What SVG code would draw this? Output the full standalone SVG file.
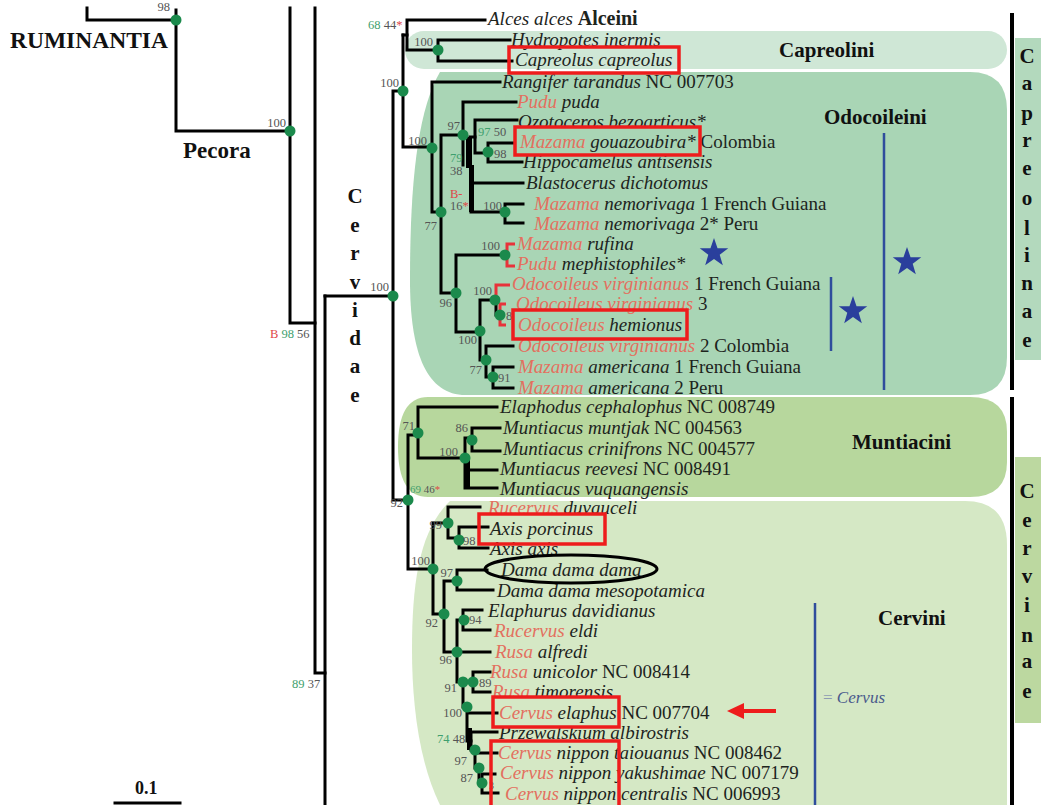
<svg xmlns="http://www.w3.org/2000/svg" xmlns:xlink="http://www.w3.org/1999/xlink" width="1041" height="805" viewBox="0 0 1041 805">
<defs>
<style>
.br{fill:none;stroke:#000;stroke-width:3;stroke-linecap:square}
.rbr{fill:none;stroke:#e8323a;stroke-width:3}
.tk{fill:#000}
.nd{fill:#1b8a4c}
.sp{font-family:"Liberation Serif",serif;font-size:19px;font-style:italic;fill:#1d241d}
.g{fill:#e3705f}
.n{font-style:normal}
.bs{font-family:"Liberation Serif",serif;font-size:12.5px;fill:#555}
.bg{fill:#3f9f6e}
.bx{fill:#e04848}
.cl{font-family:"Liberation Serif",serif;font-weight:bold;font-size:21px;fill:#111}
.vt{font-family:"Liberation Serif",serif;font-weight:bold;font-size:21px;fill:#111;text-anchor:middle}
.box{fill:none;stroke:#ee1c1c;stroke-width:3.5}
.blu{stroke:#2f4d9c;stroke-width:2.5;fill:none}
</style>
<path id="star" d="M0,-15 L3.53,-4.85 L14.27,-4.64 L5.71,1.85 L8.82,12.14 L0,6 L-8.82,12.14 L-5.71,1.85 L-14.27,-4.64 L-3.53,-4.85 Z" fill="#2a3f9c"/>
</defs>
<rect width="1041" height="805" fill="#fff"/>

<g id="clade-backgrounds">
<rect id="bg-capreolini" x="405" y="31" width="602" height="38" rx="19" fill="#cfe7d6"/>
<path id="bg-odocoileini" d="M440,72 H970 Q1007,72 1007,110 V357 Q1007,395 970,395 H462 C425,392 410,350 410,280 C410,180 418,110 440,72 Z" fill="#a9d5b5"/>
<path id="bg-muntiacini" d="M428,397 H970 Q1007,397 1007,432 V462 Q1007,497 970,497 H428 Q398,497 398,447 Q398,397 428,397 Z" fill="#b7d79d"/>
<path id="bg-cervini" d="M450,501 H965 Q1007,501 1007,545 V805 H440 C418,760 412,700 412,650 C412,580 420,530 450,501 Z" fill="#d5e8c5"/>
<rect id="bg-capreolinae" x="1015" y="38" width="26" height="322" fill="#b3d9bd"/>
<rect id="bg-cervinae" x="1015" y="457" width="26" height="266" fill="#bcd8a0"/>
</g>

<g id="connectors">
<path class="br" d="M87,8 V20 H176"/>
<path class="br" d="M176,10 V131 H290"/>
<path class="br" d="M290,8 V323 H315"/>
<path class="br" d="M315,8 V673 H325"/>
<path class="br" d="M325,296 V805"/>
<path class="br" d="M325,296 H393"/>
<path class="br" d="M403,91 H393 V500 H408"/>
<path class="br" d="M485,20 H407 V50 H438"/>
<path class="br" d="M403,35 H407"/>
<path class="br" d="M403,35 V147 H432"/>
<path class="br" d="M510,40 H438 V61 H512"/>
<path class="br" d="M500,82 H432 V212 H441"/>
<path class="br" d="M463,135 H441 V293 H456"/>
<path class="br" d="M516,102 H463 V165"/>
<rect class="tk" x="466" y="137" width="6" height="31"/>
<path class="br" d="M470,137 H475"/>
<path class="br" d="M517,120 H475 V153 H488"/>
<path class="br" d="M513,143 H488 V162 H522"/>
<rect class="tk" x="469" y="165" width="5" height="47"/>
<path class="br" d="M471,183 H523"/>
<path class="br" d="M471,212 H505"/>
<path class="br" d="M523,204 H505 V223 H523"/>
<path class="br" d="M505,255 H456 V332 H480"/>
<path class="br" d="M495,300 H480 V360 H486"/>
<path class="br" d="M496,300 V315 H500"/>
<path class="br" d="M513,346 H486 V377 H493"/>
<path class="br" d="M513,367 H493 V388 H513"/>
<path class="rbr" d="M515,244 H507 V266 H515"/>
<path class="rbr" d="M510,285 H496 V300"/>
<path class="rbr" d="M506,304 H500 V325 H506"/>
<path class="br" d="M418,435 H408 V569 H433"/>
<path class="br" d="M497,407 H418 V458 H465"/>
<path class="br" d="M472,438 H465 V488 H497"/>
<rect class="tk" x="465" y="458" width="5" height="30"/>
<path class="br" d="M468,470 H497"/>
<path class="br" d="M500,428 H472 V451 H500"/>
<path class="br" d="M448,523 H433 V614 H444"/>
<path class="br" d="M480,507 H448 V538 H459"/>
<path class="br" d="M488,527 H459 V548 H488"/>
<path class="br" d="M457,581 H444 V652 H457"/>
<path class="br" d="M487,570 H457 V590 H493"/>
<path class="br" d="M463,620 H457 V682 H463"/>
<path class="br" d="M457,652 H490"/>
<path class="br" d="M482,610 H463 V630 H490"/>
<path class="br" d="M490,672 H473 V692 H490"/>
<path class="br" d="M473,682 H463 V707 H467"/>
<path class="br" d="M497,713 H467 V741 H471"/>
<rect class="tk" x="467" y="728" width="5" height="22"/>
<path class="br" d="M497,732 H471 V750 H475"/>
<path class="br" d="M497,753 H475 V768 H479"/>
<path class="br" d="M479,768 V783 H482"/>
<path class="br" d="M495,774 H482 V793 H498"/>
<path class="br" d="M115,803 H180"/>
</g>

<g id="node-dots">
<circle class="nd" cx="176" cy="20" r="5.5"/><circle class="nd" cx="290" cy="131" r="5.5"/>
<circle class="nd" cx="393" cy="296" r="5.5"/><circle class="nd" cx="403" cy="91" r="5.5"/>
<circle class="nd" cx="438" cy="50" r="5.5"/><circle class="nd" cx="432" cy="148" r="5.5"/>
<circle class="nd" cx="441" cy="212" r="5.5"/><circle class="nd" cx="463" cy="135" r="5.5"/>
<circle class="nd" cx="488" cy="152" r="5.5"/><circle class="nd" cx="505" cy="212" r="5.5"/>
<circle class="nd" cx="505" cy="255" r="5.5"/><circle class="nd" cx="456" cy="293" r="5.5"/>
<circle class="nd" cx="480" cy="331" r="5.5"/><circle class="nd" cx="495" cy="300" r="5.5"/>
<circle class="nd" cx="500" cy="315" r="5.5"/><circle class="nd" cx="486" cy="360" r="5.5"/>
<circle class="nd" cx="493" cy="377" r="5.5"/><circle class="nd" cx="418" cy="433" r="5.5"/>
<circle class="nd" cx="472" cy="440" r="5.5"/><circle class="nd" cx="465" cy="458" r="5.5"/>
<circle class="nd" cx="408" cy="500" r="5.5"/><circle class="nd" cx="448" cy="523" r="5.5"/>
<circle class="nd" cx="459" cy="540" r="5.5"/><circle class="nd" cx="433" cy="569" r="5.5"/>
<circle class="nd" cx="457" cy="581" r="5.5"/><circle class="nd" cx="444" cy="614" r="5.5"/>
<circle class="nd" cx="464" cy="620" r="5.5"/><circle class="nd" cx="457" cy="652" r="5.5"/>
<circle class="nd" cx="463" cy="682" r="5.5"/><circle class="nd" cx="473" cy="682" r="5.5"/>
<circle class="nd" cx="467" cy="707" r="5.5"/><circle class="nd" cx="475" cy="750" r="5.5"/>
<circle class="nd" cx="479" cy="768" r="5.5"/><circle class="nd" cx="482" cy="783" r="5.5"/>
</g>

<g id="support-values">
<text class="bs" x="170" y="11" text-anchor="end">98</text>
<text class="bs" x="286" y="127" text-anchor="end">100</text>
<text class="bs" x="389" y="291" text-anchor="end">100</text>
<text class="bs" x="270" y="338"><tspan class="bx">B</tspan> <tspan class="bg">98</tspan> 56</text>
<text class="bs" x="292" y="688"><tspan class="bg">89</tspan> 37</text>
<text class="bs" x="368" y="29"><tspan class="bg">68</tspan> 44<tspan class="bx">*</tspan></text>
<text class="bs" x="399" y="87" text-anchor="end">100</text>
<text class="bs" x="433" y="46" text-anchor="end">100</text>
<text class="bs" x="427" y="145" text-anchor="end">100</text>
<text class="bs" x="460" y="130" text-anchor="end">97</text>
<text class="bs" x="478" y="136"><tspan class="bg">97</tspan> 50</text>
<text class="bs" x="494" y="158">98</text>
<text class="bs bg" x="450" y="162">79</text>
<text class="bs" x="450" y="175">38</text>
<text class="bs bx" x="450" y="198">B-</text>
<text class="bs" x="450" y="210">16<tspan class="bx">*</tspan></text>
<text class="bs" x="502" y="210" text-anchor="end">100</text>
<text class="bs" x="437" y="230" text-anchor="end">77</text>
<text class="bs" x="500" y="250" text-anchor="end">100</text>
<text class="bs" x="452" y="307" text-anchor="end">96</text>
<text class="bs" x="477" y="344" text-anchor="end">100</text>
<text class="bs" x="492" y="295" text-anchor="end">100</text>
<text class="bs" x="506" y="320">8</text>
<text class="bs" x="482" y="374" text-anchor="end">77</text>
<text class="bs" x="498" y="382">91</text>
<text class="bs" x="415" y="430" text-anchor="end">71</text>
<text class="bs" x="468" y="432" text-anchor="end">86</text>
<text class="bs" x="458" y="456" text-anchor="end">100</text>
<text class="bs" x="410" y="493" style="font-size:11px"><tspan class="bg">69</tspan> 46<tspan class="bx">*</tspan></text>
<text class="bs" x="403" y="507" text-anchor="end">92</text>
<text class="bs" x="442" y="529" text-anchor="end">99</text>
<text class="bs" x="463" y="545">98</text>
<text class="bs" x="430" y="565" text-anchor="end">100</text>
<text class="bs" x="453" y="577" text-anchor="end">97</text>
<text class="bs" x="438" y="627" text-anchor="end">92</text>
<text class="bs" x="469" y="624">94</text>
<text class="bs" x="452" y="664" text-anchor="end">96</text>
<text class="bs" x="457" y="692" text-anchor="end">91</text>
<text class="bs" x="479" y="687">89</text>
<text class="bs" x="462" y="717" text-anchor="end">100</text>
<text class="bs" x="437" y="743"><tspan class="bg">74</tspan> 48</text>
<text class="bs" x="467" y="765" text-anchor="end">97</text>
<text class="bs" x="473" y="782" text-anchor="end">87</text>
<text class="bs" x="489" y="789" style="font-size:10px">3</text>
</g>

<g id="leaves">
<g id="leaf-alces"><text class="sp" x="488" y="25">Alces alces <tspan class="n" font-weight="bold" style="font-size:20px">Alceini</tspan></text></g>
<g id="leaf-hydropotes"><text class="sp" x="511" y="46">Hydropotes inermis</text></g>
<g id="leaf-capreolus"><text class="sp" x="515" y="66">Capreolus capreolus</text></g>
<g id="leaf-rangifer"><text class="sp" x="502" y="88">Rangifer tarandus <tspan class="n">NC 007703</tspan></text></g>
<g id="leaf-pudu-puda"><text class="sp" x="517" y="108"><tspan class="g">Pudu</tspan> puda</text></g>
<g id="leaf-ozotoceros"><text class="sp" x="518" y="128">Ozotoceros bezoarticus*</text></g>
<g id="leaf-mazama-gouazoubira"><text class="sp" x="520" y="148"><tspan class="g">Mazama</tspan> gouazoubira* <tspan class="n">Colombia</tspan></text></g>
<g id="leaf-hippocamelus"><text class="sp" x="523" y="168">Hippocamelus antisensis</text></g>
<g id="leaf-blastocerus"><text class="sp" x="526" y="189">Blastocerus dichotomus</text></g>
<g id="leaf-nemorivaga1"><text class="sp" x="534" y="210"><tspan class="g">Mazama</tspan> nemorivaga <tspan class="n">1 French Guiana</tspan></text></g>
<g id="leaf-nemorivaga2"><text class="sp" x="534" y="230"><tspan class="g">Mazama</tspan> nemorivaga <tspan class="n">2* Peru</tspan></text></g>
<g id="leaf-rufina"><text class="sp" x="517" y="250"><tspan class="g">Mazama</tspan> rufina</text></g>
<g id="leaf-mephistophiles"><text class="sp" x="517" y="270"><tspan class="g">Pudu</tspan> mephistophiles*</text></g>
<g id="leaf-odo-v1"><text class="sp" x="512" y="290"><tspan class="g">Odocoileus virginianus</tspan> <tspan class="n">1 French Guiana</tspan></text></g>
<g id="leaf-odo-v3"><text class="sp" x="516" y="310"><tspan class="g">Odocoileus virginianus</tspan> <tspan class="n">3</tspan></text></g>
<g id="leaf-odo-hemionus"><text class="sp" x="518" y="331"><tspan class="g">Odocoileus</tspan> hemionus</text></g>
<g id="leaf-odo-v2"><text class="sp" x="518" y="352"><tspan class="g">Odocoileus virginianus</tspan> <tspan class="n">2 Colombia</tspan></text></g>
<g id="leaf-americana1"><text class="sp" x="518" y="373"><tspan class="g">Mazama</tspan> americana <tspan class="n">1 French Guiana</tspan></text></g>
<g id="leaf-americana2"><text class="sp" x="518" y="394"><tspan class="g">Mazama</tspan> americana <tspan class="n">2 Peru</tspan></text></g>
<g id="leaf-elaphodus"><text class="sp" x="500" y="413">Elaphodus cephalophus <tspan class="n">NC 008749</tspan></text></g>
<g id="leaf-muntjak"><text class="sp" x="503" y="434">Muntiacus muntjak <tspan class="n">NC 004563</tspan></text></g>
<g id="leaf-crinifrons"><text class="sp" x="503" y="455">Muntiacus crinifrons <tspan class="n">NC 004577</tspan></text></g>
<g id="leaf-reevesi"><text class="sp" x="500" y="475">Muntiacus reevesi <tspan class="n">NC 008491</tspan></text></g>
<g id="leaf-vuquangensis"><text class="sp" x="500" y="495">Muntiacus vuquangensis</text></g>
<g id="leaf-duvauceli"><text class="sp" x="488" y="514"><tspan class="g">Rucervus</tspan> duvauceli</text></g>
<g id="leaf-axis-porcinus"><text class="sp" x="490" y="535">Axis porcinus</text></g>
<g id="leaf-axis-axis"><text class="sp" x="490" y="555">Axis axis</text></g>
<g id="leaf-dama"><text class="sp" x="501" y="576">Dama dama dama</text></g>
<g id="leaf-mesopotamica"><text class="sp" x="497" y="597">Dama dama mesopotamica</text></g>
<g id="leaf-elaphurus"><text class="sp" x="488" y="617">Elaphurus davidianus</text></g>
<g id="leaf-eldi"><text class="sp" x="494" y="637"><tspan class="g">Rucervus</tspan> eldi</text></g>
<g id="leaf-alfredi"><text class="sp" x="495" y="658"><tspan class="g">Rusa</tspan> alfredi</text></g>
<g id="leaf-unicolor"><text class="sp" x="490" y="678"><tspan class="g">Rusa</tspan> unicolor <tspan class="n">NC 008414</tspan></text></g>
<g id="leaf-timorensis"><text class="sp" x="492" y="698"><tspan class="g">Rusa</tspan> timorensis</text></g>
<g id="leaf-elaphus"><text class="sp" x="499" y="719"><tspan class="g">Cervus</tspan> elaphus <tspan class="n">NC 007704</tspan></text></g>
<g id="leaf-przewalskium"><text class="sp" x="499" y="739">Przewalskium albirostris</text></g>
<g id="leaf-taiouanus"><text class="sp" x="498" y="759"><tspan class="g">Cervus</tspan> nippon taiouanus <tspan class="n">NC 008462</tspan></text></g>
<g id="leaf-yakushimae"><text class="sp" x="500" y="779"><tspan class="g">Cervus</tspan> nippon yakushimae <tspan class="n">NC 007179</tspan></text></g>
<g id="leaf-centralis"><text class="sp" x="505" y="800"><tspan class="g">Cervus</tspan> nippon centralis <tspan class="n">NC 006993</tspan></text></g>
</g>

<g id="highlights">
<rect class="box" x="509" y="47" width="170" height="26"/>
<rect class="box" x="515" y="127" width="185" height="28"/>
<rect class="box" x="513" y="310" width="174" height="29"/>
<rect class="box" x="479" y="514" width="126" height="30"/>
<rect class="box" x="493" y="697" width="126" height="30"/>
<rect class="box" x="491" y="741" width="128" height="70"/>
<ellipse cx="571" cy="569" rx="86" ry="14" fill="none" stroke="#000" stroke-width="3"/>
<g id="red-arrow"><line x1="776" y1="711" x2="740" y2="711" stroke="#ee1c1c" stroke-width="4"/><polygon points="727,711 744,703 744,719" fill="#ee1c1c"/></g>
</g>

<g id="clade-marks">
<line class="blu" x1="884" y1="133" x2="884" y2="390"/>
<line class="blu" x1="831" y1="277" x2="831" y2="351"/>
<line class="blu" x1="815" y1="603" x2="815" y2="805"/>
<use xlink:href="#star" href="#star" x="714" y="253"/>
<use xlink:href="#star" href="#star" x="907" y="262"/>
<use xlink:href="#star" href="#star" x="853" y="311"/>
<text x="823" y="703" font-family="Liberation Serif, serif" font-size="17"><tspan fill="#8d9bb3">=</tspan><tspan fill="#4a5a8c" font-style="italic"> Cervus</tspan></text>
<line x1="1012" y1="13" x2="1012" y2="390" stroke="#000" stroke-width="4"/>
<line x1="1012" y1="397" x2="1012" y2="805" stroke="#000" stroke-width="4"/>
</g>

<g id="group-labels">
<text class="cl" x="10" y="48" style="font-size:23.5px">RUMINANTIA</text>
<text class="cl" x="183" y="158" style="font-size:23px">Pecora</text>
<text class="cl" x="779" y="57">Capreolini</text>
<text class="cl" x="824" y="124">Odocoileini</text>
<text class="cl" x="852" y="449">Muntiacini</text>
<text class="cl" x="878" y="625">Cervini</text>
<text class="cl" x="135" y="794" style="font-size:18px">0.1</text>
<g id="label-cervidae" style="font-size:22px">
<text class="vt" x="355" y="203">C</text><text class="vt" x="355" y="232">e</text><text class="vt" x="355" y="260">r</text><text class="vt" x="355" y="289">v</text><text class="vt" x="355" y="317">i</text><text class="vt" x="355" y="345">d</text><text class="vt" x="355" y="373">a</text><text class="vt" x="355" y="402">e</text>
</g>
<g id="label-capreolinae">
<text class="vt" x="1027" y="63">C</text><text class="vt" x="1027" y="90">a</text><text class="vt" x="1027" y="120">p</text><text class="vt" x="1027" y="147">r</text><text class="vt" x="1027" y="175">e</text><text class="vt" x="1027" y="205">o</text><text class="vt" x="1027" y="235">l</text><text class="vt" x="1027" y="262">i</text><text class="vt" x="1027" y="290">n</text><text class="vt" x="1027" y="318">a</text><text class="vt" x="1027" y="347">e</text>
</g>
<g id="label-cervinae">
<text class="vt" x="1027" y="498">C</text><text class="vt" x="1027" y="527">e</text><text class="vt" x="1027" y="555">r</text><text class="vt" x="1027" y="583">v</text><text class="vt" x="1027" y="612">i</text><text class="vt" x="1027" y="642">n</text><text class="vt" x="1027" y="668">a</text><text class="vt" x="1027" y="698">e</text>
</g>
</g>
</svg>
